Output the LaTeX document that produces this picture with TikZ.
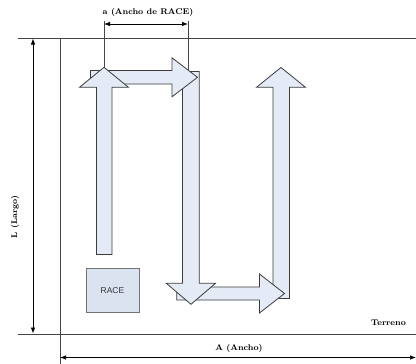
\documentclass[tikz,border=0pt]{standalone}
\usepackage{fontspec}
\newfontfamily\racefont{Liberation Sans}
\usetikzlibrary{arrows.meta}
\definecolor{arrowfill}{RGB}{229,235,246}
\definecolor{boxfill}{RGB}{220,227,240}
\definecolor{edge}{RGB}{60,60,60}
\definecolor{linec}{RGB}{70,70,70}
\tikzset{
  blockarrow/.style={draw=edge, fill=arrowfill, line width=0.8pt, line join=miter},
  guide/.style={draw=linec, line width=0.8pt},
  dimarrow/.style={draw=black, line width=0.7pt, {Latex[length=6pt,width=4.5pt]}-{Latex[length=6pt,width=4.5pt]}},
  lbl/.style={font=\bfseries\fontsize{8.3}{9}\selectfont, inner sep=0pt},
  racebox/.style={draw=gray!90!black, fill=boxfill, line width=0.8pt, minimum width=53pt, minimum height=44pt, inner sep=0pt, font=\racefont\fontsize{8.5}{10}\selectfont, text=black!80}
}
\begin{document}
\begin{tikzpicture}[x=1pt,y=-1pt]
\useasboundingbox (0,0) rectangle (416,364);
% ground lines
\coordinate (tl) at (18,38);
\coordinate (tr) at (416,38);
\coordinate (bl) at (18,334);
\coordinate (br) at (416,334);
\coordinate (vt) at (60,38);
\coordinate (vb) at (60,364);
\draw[guide] (tl) -- (tr);
\draw[guide] (bl) -- (br);
\draw[guide] (vt) -- (vb);
% L dimension
\coordinate (Lt) at (33,38.5);
\coordinate (Lb) at (33,333.5);
\draw[dimarrow] (Lt) -- (Lb);
\node[lbl, rotate=90] (Llbl) at (15,217) {L (Largo)};
% A dimension
\coordinate (Al) at (60,357.5);
\coordinate (Ar) at (416,357.5);
\draw[dimarrow] (Al) -- (Ar);
\node[lbl] (Albl) at (239,348) {A (Ancho)};
\node[lbl] (terr) at (388.5,323) {Terreno};
% a dimension
\coordinate (e1t) at (104,20.5);
\coordinate (e1b) at (104,67.5);
\coordinate (e2t) at (188,20.5);
\coordinate (e2b) at (188,72);
\draw[guide, line width=0.7pt] (e1t) -- (e1b);
\draw[guide, line width=0.7pt] (e2t) -- (e2b);
\coordinate (al) at (104,24);
\coordinate (ar) at (188,24);
\draw[dimarrow] (al) -- (ar);
\node[lbl] (albl) at (148,12.5) {a (Ancho de RACE)};
% block arrows (back to front)
% up right
\draw[blockarrow] (273,298.5) -- (273,87.3) -- (256.5,87.3) -- (281,67.5) -- (305.5,87.3) -- (289.5,87.3) -- (289.5,298.5) -- cycle;
% bottom right
\draw[blockarrow] (176.7,287) -- (259.5,287) -- (259.5,274) -- (284.5,293.5) -- (259.5,313) -- (259.5,300) -- (176.7,300) -- cycle;
% down
\draw[blockarrow] (182.5,71.5) -- (199.3,71.5) -- (199.3,283.3) -- (215.5,283.3) -- (191,304.3) -- (166.3,283.3) -- (182.5,283.3) -- cycle;
% top right
\draw[blockarrow] (90.5,70.5) -- (172,70.5) -- (172,57.8) -- (197.5,77.3) -- (172,96.8) -- (172,84) -- (90.5,84) -- cycle;
% up left
\draw[blockarrow] (96.5,254.5) -- (96.5,87.3) -- (79.5,87.3) -- (104,67.3) -- (128.5,87.3) -- (112,87.3) -- (112,254.5) -- cycle;
% RACE box
\node[racebox] (race) at (112.5,290.5) {RACE};
\end{tikzpicture}
\end{document}
